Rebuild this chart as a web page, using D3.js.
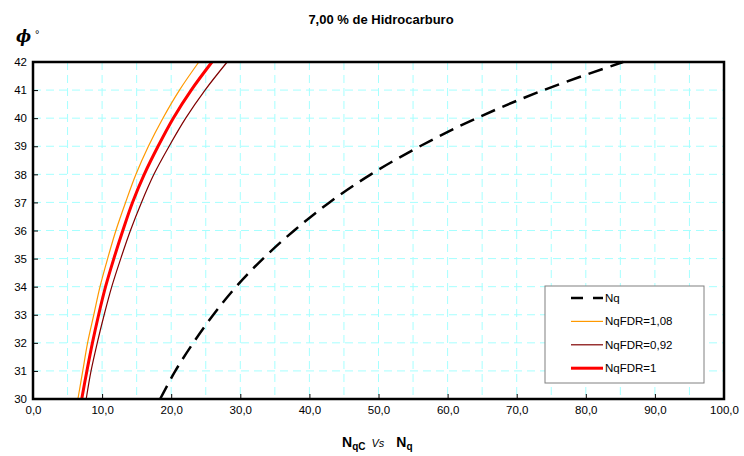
<!DOCTYPE html>
<html>
<head>
<meta charset="utf-8">
<script src="https://d3js.org/d3.v7.min.js"></script>
<style>
  body { margin: 0; background: #fff; }
  text { font-family: "Liberation Sans", Arial, sans-serif; }
</style>
</head>
<body>
<svg id="chart" width="744" height="456"></svg>
<script>
// angle of friction (degrees)
var phi = [30, 31, 32, 33, 34, 35, 36, 37, 38, 39, 40, 41, 42]
// Nq
var nq = [18.4, 20.6, 23.2, 26.1, 29.4, 33.3, 37.8, 42.9, 48.9, 56.0, 64.2, 73.9, 85.4]
// NqC curves
var fdr108 = [6.5, 7.2, 7.9, 8.8, 9.7, 10.8, 12.0, 13.4, 14.9, 16.7, 18.8, 21.2, 24.0]
var fdr092 = [7.7, 8.4, 9.3, 10.3, 11.4, 12.7, 14.1, 15.7, 17.5, 19.7, 22.1, 24.9, 28.1]
var fdr1 = [7.05, 7.8, 8.6, 9.5, 10.5, 11.7, 13.0, 14.4, 16.1, 18.1, 20.3, 22.9, 25.9]

var xTicks = [0, 10, 20, 30, 40, 50, 60, 70, 80, 90, 100]
var yTicks = [30, 31, 32, 33, 34, 35, 36, 37, 38, 39, 40, 41, 42]

var series = [
  {name: "Nq", values: nq, color: "#000", width: 2.5, dash: "15,8"},
  {name: "NqFDR=1,08", values: fdr108, color: "#ff9900", width: 1.2, dash: null},
  {name: "NqFDR=0,92", values: fdr092, color: "#800000", width: 1.2, dash: null},
  {name: "NqFDR=1", values: fdr1, color: "#ff0000", width: 3, dash: null}
]

var svg = d3.select("#chart")
var pL = 33, pR = 724, pT = 62, pB = 399

var x = d3.scaleLinear().domain([0, 100]).range([pL, pR])
var y = d3.scaleLinear().domain([30, 42]).range([pB, pT])

var fmt = d => d.toFixed(1).replace(".", ",")

// grid
var grid = svg.append("g")
grid.selectAll("line.v")
  .data(d3.range(5, 100, 5))
  .enter().append("line")
  .attr("x1", d => x(d)).attr("x2", d => x(d))
  .attr("y1", pT).attr("y2", pB)
  .attr("stroke", "#a6ffff").attr("stroke-dasharray", "8,5")
grid.selectAll("line.h")
  .data(d3.range(31, 42))
  .enter().append("line")
  .attr("x1", pL).attr("x2", pR)
  .attr("y1", d => y(d)).attr("y2", d => y(d))
  .attr("stroke", "#a6ffff").attr("stroke-dasharray", "8,5")

// curves
var line = d3.line()
  .x(d => x(d[0]))
  .y(d => y(d[1]))
  .curve(d3.curveCatmullRom)

series.forEach(s => {
  svg.append("path")
    .datum(s.values.map((v, i) => [v, phi[i]]))
    .attr("d", line)
    .attr("fill", "none")
    .attr("stroke", s.color)
    .attr("stroke-width", s.width)
    .attr("stroke-dasharray", s.dash)
})

// axes
var xAxis = d3.axisBottom(x).tickValues(xTicks).tickSize(-5).tickPadding(7).tickFormat(fmt)
var gx = svg.append("g").attr("transform", "translate(0," + pB + ")").call(xAxis)
var yAxis = d3.axisLeft(y).tickValues(yTicks).tickSize(-5).tickPadding(6)
var gy = svg.append("g").attr("transform", "translate(" + pL + ",0)").call(yAxis)
;[gx, gy].forEach(g => {
  g.select(".domain").remove()
  g.selectAll("text").attr("font-size", 11.5).attr("fill", "#000")
    .style("font-family", "'Liberation Sans', Arial, sans-serif")
  g.selectAll(".tick line").attr("stroke", "#000")
})

// frame
svg.append("rect")
  .attr("x", pL).attr("y", pT)
  .attr("width", pR - pL).attr("height", pB - pT)
  .attr("fill", "none").attr("stroke", "#000").attr("stroke-width", 2.5)

// legend
var lg = svg.append("g")
lg.append("rect")
  .attr("x", 545).attr("y", 286).attr("width", 159).attr("height", 97)
  .attr("fill", "#fff").attr("stroke", "#808080").attr("stroke-width", 1)
series.forEach((s, i) => {
  var ly = 298 + i * 23.4
  lg.append("line")
    .attr("x1", 571).attr("x2", 603).attr("y1", ly).attr("y2", ly)
    .attr("stroke", s.color)
    .attr("stroke-width", s.width)
    .attr("stroke-dasharray", s.dash ? "12,10" : null)
  lg.append("text")
    .attr("x", 605).attr("y", ly + 4)
    .attr("font-size", 11.5)
    .text(s.name)
})

// title
svg.append("text")
  .attr("x", 381).attr("y", 24)
  .attr("text-anchor", "middle")
  .attr("font-size", 13).attr("font-weight", "bold")
  .text("7,00 % de Hidrocarburo")

// y label
var yl = svg.append("text").attr("x", 16).attr("y", 42)
yl.append("tspan").attr("font-size", 16).attr("font-weight", "bold").attr("font-style", "italic")
  .style("font-family", "'DejaVu Serif', serif").text("ϕ")
yl.append("tspan").attr("font-size", 11).attr("dx", 4).attr("dy", -4).text("°")

// x label
var xl = svg.append("text").attr("x", 342).attr("y", 447).attr("font-size", 14)
xl.append("tspan").attr("font-weight", "bold").text("N")
xl.append("tspan").attr("font-weight", "bold").attr("font-size", 10).attr("dy", 3).text("qC")
xl.append("tspan").attr("font-style", "italic").attr("font-size", 11).attr("dx", 6).attr("dy", -3).text("Vs")
xl.append("tspan").attr("font-weight", "bold").attr("dx", 12).text("N")
xl.append("tspan").attr("font-weight", "bold").attr("font-size", 10).attr("dy", 3).text("q")
</script>
</body>
</html>
